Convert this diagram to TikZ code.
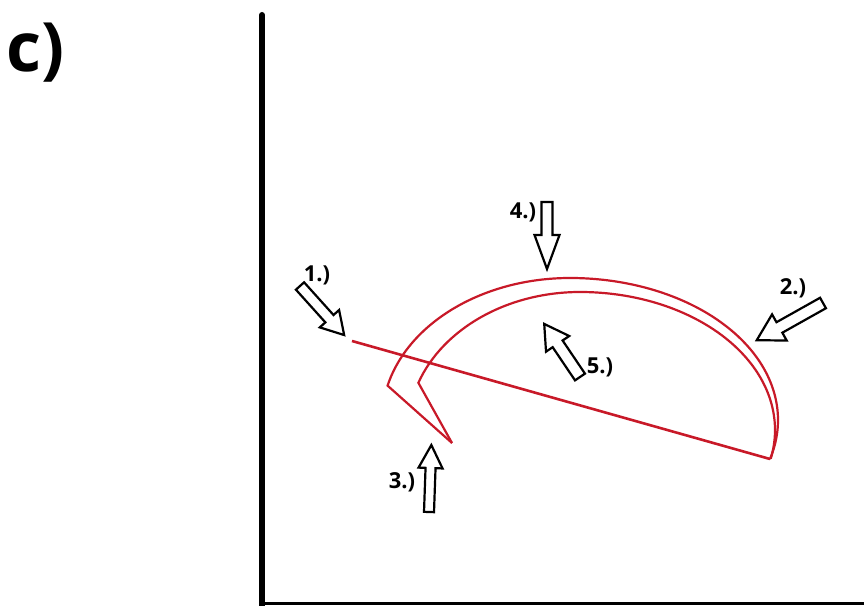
\documentclass[tikz,border=0pt]{standalone}
\usepackage{fontspec}
\setmainfont{Open Sans}
\definecolor{redc}{RGB}{200,25,40}
\newcommand\blkarrow[6]{%
  \begin{scope}[shift={(#1)},rotate=#2]
    \draw[arrowshape] (0,-#4) -- ({#3-#6},-#4) -- ({#3-#6},-#5) -- (#3,0)
      -- ({#3-#6},#5) -- ({#3-#6},#4) -- (0,#4) -- cycle;
  \end{scope}}
\begin{document}
\begin{tikzpicture}[x=1pt,y=1pt,
  lbl/.style={font=\bfseries\fontsize{22}{22}\selectfont, inner sep=0},
  redline/.style={draw=redc, line width=2.6pt},
  redarc/.style={draw=redc, line width=2.2pt, line join=miter},
  arrowshape/.style={draw=black, fill=white, line width=2.2pt, line join=miter}]
\useasboundingbox (0,0) rectangle (864,605);
% title
\node[font=\bfseries\fontsize{68}{68}\selectfont, inner sep=0] (title) at (36,552) {c)};
% axes
\coordinate (ytop) at (262,590);
\coordinate (ybot) at (262,-5);
\coordinate (xstart) at (262,2);
\coordinate (xend) at (866,2);
\draw[line width=6pt, line cap=round] (ytop) -- (ybot);
\draw[line width=3pt] (xstart) -- (xend);
% red figure
\coordinate (lstart) at (352,264);
\coordinate (lend) at (770,146);
\coordinate (tip) at (452,162);
\draw[redline] (lstart) -- (lend);
\draw[redarc] (tip) -- ([shift={(166:188 and 142)}]570,185)
  arc[start angle=166, end angle=90, x radius=188, y radius=142]
  arc[start angle=90, end angle=-16, x radius=208, y radius=142];
\draw[redarc] (tip) -- ([shift={(160:172 and 138)}]580,175)
  arc[start angle=160, end angle=90, x radius=172, y radius=138]
  arc[start angle=90, end angle=-12, x radius=195, y radius=138];
% block arrows
\blkarrow{300,319}{-48}{66}{5.5}{13}{22}
\blkarrow{823,302}{-150.7}{76}{6}{15}{26}
\blkarrow{429,93}{88}{67}{5}{12}{23}
\blkarrow{547,403}{-90}{67}{5.5}{12.5}{34}
\blkarrow{580,228}{124}{64}{6}{14}{24}
% labels
\node[lbl] (l1) at (317,330) {1.)};
\node[lbl] (l2) at (793,317) {2.)};
\node[lbl] (l3) at (402,123) {3.)};
\node[lbl] (l4) at (523,393) {4.)};
\node[lbl] (l5) at (600,238) {5.)};
\end{tikzpicture}
\end{document}
